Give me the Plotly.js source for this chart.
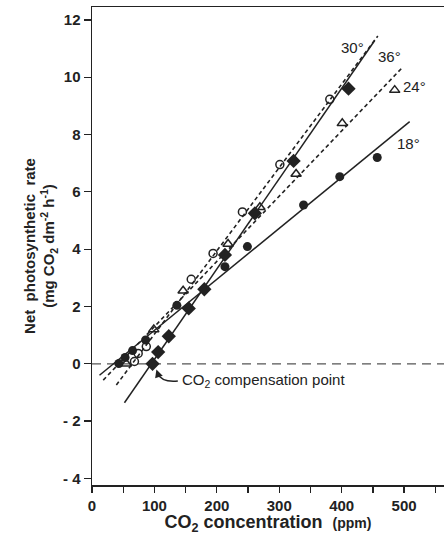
<!DOCTYPE html>
<html>
<head>
<meta charset="utf-8">
<script src="https://cdn.plot.ly/plotly-3.0.1.min.js"></script>
<style>html,body{margin:0;padding:0;background:#fff;overflow:hidden}</style>
</head>
<body>
<div id="chart" style="width:444px;height:535px"></div>
<script>
// ---- data ----
// 18 deg (filled circles)
const x18 = [43, 53, 65, 86, 136, 213, 249, 339, 397, 457];
const y18 = [0.01, 0.22, 0.46, 0.83, 2.04, 3.39, 4.09, 5.54, 6.53, 7.2];
// 24 deg (open triangles)
const x24 = [55, 99, 146, 218, 269, 327, 401, 485];
const y24 = [0.0, 1.2, 2.55, 4.18, 5.46, 6.62, 8.39, 9.55];
// 30 deg (open circles)
const x30 = [68, 74, 87, 159, 194, 241, 301, 381];
const y30 = [0.08, 0.36, 0.6, 2.95, 3.85, 5.3, 6.95, 9.23];
// 36 deg (filled diamonds)
const x36 = [97, 106, 123, 155, 180, 213, 261, 323, 411];
const y36 = [0.0, 0.41, 0.96, 1.93, 2.6, 3.8, 5.25, 7.08, 9.6];
// fitted lines (end points)
const fit18X = [12, 509], fit18Y = [-0.4, 8.45];
const fit24X = [18, 496], fit24Y = [-0.57, 10.31];
const fit30X = [39, 458], fit30Y = [-0.74, 11.44];
const fit36X = [52, 453], fit36Y = [-1.36, 11.28];
// zero reference line
const zeroX = [0, 564], zeroY = [0, 0];
// ticks
const xTickVals = [0, 100, 200, 300, 400, 500];
const xTickText = ['0', '100', '200', '300', '400', '500'];
const xMinorVals = [50, 150, 250, 350, 450, 550];
const yTickVals = [-4, -2, 0, 2, 4, 6, 8, 10, 12];
const yTickText = ['- 4', '- 2', '0', '2', '4', '6', '8', '10', '12'];

const ink = '#222';
const fam = 'Liberation Sans, Arial, sans-serif';
const traces = [
  {x: zeroX, y: zeroY, mode: 'lines', line: {color: '#555', width: 1.3, dash: '9px,6px'}},
  {x: fit18X, y: fit18Y, mode: 'lines', line: {color: ink, width: 1.5}},
  {x: fit24X, y: fit24Y, mode: 'lines', line: {color: ink, width: 1.6, dash: '4px,3px'}},
  {x: fit30X, y: fit30Y, mode: 'lines', line: {color: ink, width: 1.6, dash: '4px,3px'}},
  {x: fit36X, y: fit36Y, mode: 'lines', line: {color: ink, width: 1.5}},
  {x: x18, y: y18, mode: 'markers', marker: {symbol: 'circle', size: 9, color: ink}},
  {x: x24, y: y24, mode: 'markers', marker: {symbol: 'triangle-up-open', size: 9, color: ink, line: {width: 1.5, color: ink}}},
  {x: x30, y: y30, mode: 'markers', marker: {symbol: 'circle-open', size: 8, color: ink, line: {width: 1.5, color: ink}}},
  {x: x36, y: y36, mode: 'markers', marker: {symbol: 'diamond', size: 11, color: ink}}
];

const lblFont = {family: fam, size: 15, color: ink};
const layout = {
  width: 444, height: 535,
  margin: {l: 92, r: 0, t: 7, b: 50},
  paper_bgcolor: '#fff', plot_bgcolor: '#fff',
  showlegend: false,
  font: {family: fam, color: ink},
  xaxis: {
    range: [0, 564], showgrid: false, zeroline: false,
    showline: true, linecolor: ink, linewidth: 1.5, mirror: true,
    ticks: 'outside', ticklen: 6, tickwidth: 1.3, tickcolor: ink,
    tickmode: 'array', tickvals: xTickVals, ticktext: xTickText,
    minor: {tickmode: 'array', tickvals: xMinorVals, ticks: 'outside', ticklen: 6, tickwidth: 1.3, tickcolor: ink, showgrid: false},
    tickfont: {size: 15, family: fam, weight: 'bold', color: ink},
    title: {text: 'CO<sub>2</sub> concentration  <span style="font-size:14px">(ppm)</span>',
            font: {size: 18, weight: 'bold', color: ink}, standoff: 4}
  },
  yaxis: {
    range: [-4.23, 12.45], showgrid: false, zeroline: false,
    showline: true, linecolor: ink, linewidth: 1.5,
    ticks: 'outside', ticklen: 7, tickwidth: 1.3, tickcolor: ink,
    tickmode: 'array', tickvals: yTickVals, ticktext: yTickText,
    tickfont: {size: 15, family: fam, weight: 'bold', color: ink},
    title: {text: 'Net  photosynthetic  rate<br>(mg CO<sub>2</sub> dm<sup>-2</sup> h<sup>-1</sup>)',
            font: {size: 15, weight: 'bold', color: ink}, standoff: 4}
  },
  shapes: [
    {type: 'path', xref: 'x', yref: 'y', path: 'M 137.5,-0.6 Q 112,-0.66 104.5,-0.33',
     line: {color: ink, width: 1.6}}
  ],
  annotations: [
    {x: 141, y: -0.6, xref: 'x', yref: 'y', text: 'CO<sub>2</sub> compensation point', showarrow: false,
     xanchor: 'left', yanchor: 'middle', font: {size: 15, family: fam, color: ink}},
    {x: 103.2, y: -0.2, xref: 'x', yref: 'y', text: '', showarrow: true, arrowhead: 2, arrowsize: 1,
     arrowwidth: 1.6, arrowcolor: ink, ax: 2, ay: 6},
    {x: 352, y: 47, xref: 'paper', yref: 'paper', text: '30°', showarrow: false, font: lblFont, xanchor: 'center', yanchor: 'middle'},
    {x: 389, y: 56, xref: 'paper', yref: 'paper', text: '36°', showarrow: false, font: lblFont, xanchor: 'center', yanchor: 'middle'},
    {x: 414, y: 86, xref: 'paper', yref: 'paper', text: '24°', showarrow: false, font: lblFont, xanchor: 'center', yanchor: 'middle'},
    {x: 408, y: 143, xref: 'paper', yref: 'paper', text: '18°', showarrow: false, font: lblFont, xanchor: 'center', yanchor: 'middle'}
  ]
};
// label positions given in pixels -> convert to paper fractions
const pw = 444 - 92, ph = 535 - 7 - 50;
layout.annotations.forEach(a => {
  if (a.xref === 'paper') {
    a.x = (a.x - 92) / pw;
    a.y = 1 - (a.y - 7) / ph;
  }
});
Plotly.newPlot('chart', traces, layout, {staticPlot: true});
</script>
</body>
</html>
